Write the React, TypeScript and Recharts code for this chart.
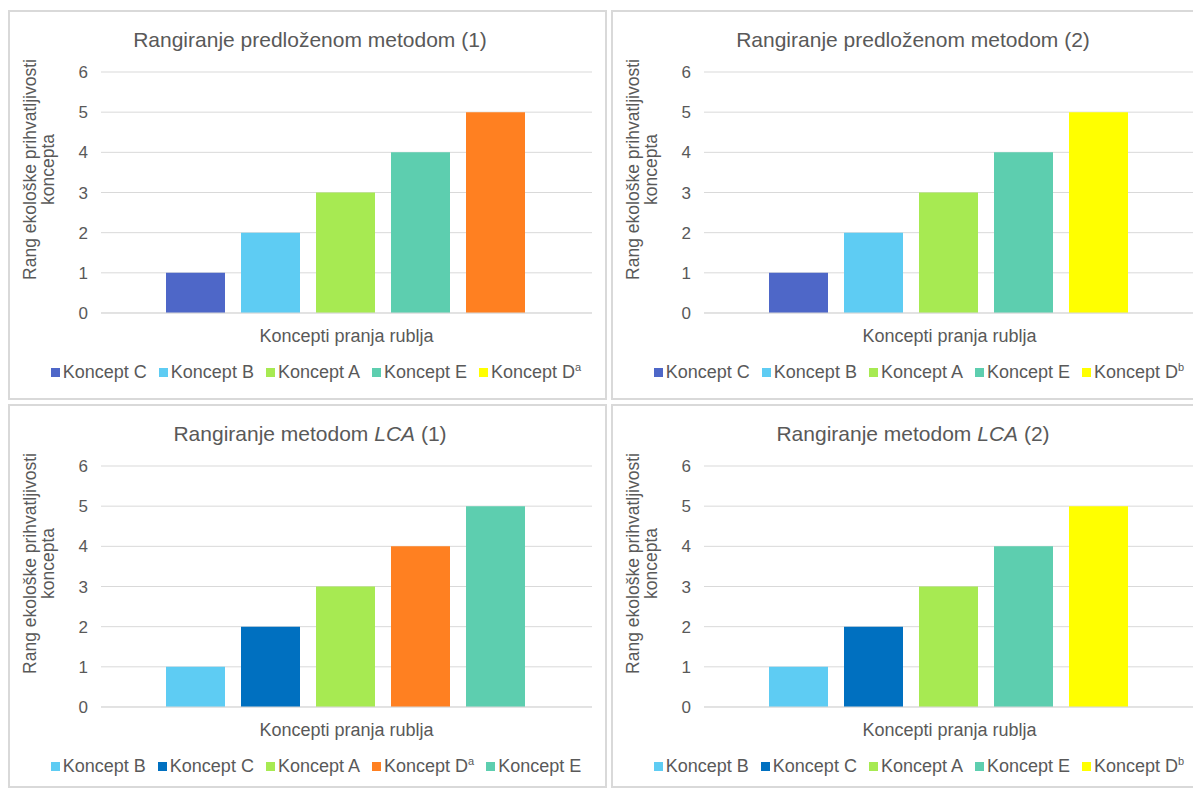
import React from 'react';
import { BarChart, Bar, XAxis, YAxis, CartesianGrid } from 'recharts';

const categories = ['Koncepti pranja rublja'];
const yTicks = [0, 1, 2, 3, 4, 5, 6];

const DARK_BLUE = '#4E67C8';
const LIGHT_BLUE = '#5ECCF3';
const GREEN = '#A7EA52';
const TEAL = '#5DCEAF';
const ORANGE = '#FF8021';
const YELLOW = '#FFFF00';
const LCA_BLUE = '#0070C0';

// Rangiranje predloženom metodom (1)
const p1Names = ['Koncept C', 'Koncept B', 'Koncept A', 'Koncept E', 'Koncept D'];
const p1Sup = ['', '', '', '', 'a'];
const p1Values = [1, 2, 3, 4, 5];
const p1Colors = [DARK_BLUE, LIGHT_BLUE, GREEN, TEAL, ORANGE];
const p1LegendColors = [DARK_BLUE, LIGHT_BLUE, GREEN, TEAL, YELLOW];

// Rangiranje predloženom metodom (2)
const p2Names = ['Koncept C', 'Koncept B', 'Koncept A', 'Koncept E', 'Koncept D'];
const p2Sup = ['', '', '', '', 'b'];
const p2Values = [1, 2, 3, 4, 5];
const p2Colors = [DARK_BLUE, LIGHT_BLUE, GREEN, TEAL, YELLOW];

// Rangiranje metodom LCA (1)
const p3Names = ['Koncept B', 'Koncept C', 'Koncept A', 'Koncept D', 'Koncept E'];
const p3Sup = ['', '', '', 'a', ''];
const p3Values = [1, 2, 3, 4, 5];
const p3Colors = [LIGHT_BLUE, LCA_BLUE, GREEN, ORANGE, TEAL];

// Rangiranje metodom LCA (2)
const p4Names = ['Koncept B', 'Koncept C', 'Koncept A', 'Koncept E', 'Koncept D'];
const p4Sup = ['', '', '', '', 'b'];
const p4Values = [1, 2, 3, 4, 5];
const p4Colors = [LIGHT_BLUE, LCA_BLUE, GREEN, TEAL, YELLOW];

const TEXT = '#595959';
const GRID = '#D9D9D9';
const FONT = '"Liberation Sans", Arial, sans-serif';

const YAxisTitle = (props: any) => {
  const vb = props.viewBox ?? { y: 60, height: 241 };
  const cy = vb.y + vb.height / 2 - 23;
  const lines = ['Rang ekološke prihvatljivosti', 'koncepta'];
  return (
    <g>
      {lines.map((t, i) => {
        const cx = 20 + i * 18;
        return (
          <text
            key={t}
            x={cx}
            y={cy}
            transform={`rotate(-90 ${cx} ${cy})`}
            textAnchor="middle"
            dominantBaseline="central"
            fontSize={17.5}
            fill={TEXT}
            fontFamily={FONT}
          >
            {t}
          </text>
        );
      })}
    </g>
  );
};

type PanelProps = {
  left: number;
  top: number;
  width: number;
  height: number;
  title: React.ReactNode;
  names: string[];
  sups: string[];
  values: number[];
  colors: string[];
  legendColors?: string[];
};

function Panel({ left, top, width, height, title, names, sups, values, colors, legendColors }: PanelProps) {
  const row: Record<string, any> = { name: categories[0] };
  values.forEach((v, i) => {
    row['s' + i] = v;
  });
  const data = [row];
  const chartW = width - 4;
  const chartH = height - 4;
  const lc = legendColors ?? colors;

  return (
    <div
      style={{
        position: 'absolute',
        left,
        top,
        width,
        height,
        boxSizing: 'border-box',
        border: `2px solid ${GRID}`,
        background: '#fff',
        overflow: 'hidden',
      }}
    >
      <div
        style={{
          position: 'absolute',
          left: 0,
          top: 16,
          width: 600,
          textAlign: 'center',
          fontSize: 21,
          color: TEXT,
          fontFamily: FONT,
          whiteSpace: 'nowrap',
        }}
      >
        {title}
      </div>
      <div style={{ position: 'absolute', left: 0, top: 0 }}>
        <BarChart
          width={chartW}
          height={chartH}
          data={data}
          margin={{ top: 60, right: chartW - 582, left: 0, bottom: chartH - 331 }}
          barCategoryGap={65}
          barGap={16}
        >
          <CartesianGrid vertical={false} stroke={GRID} />
          <XAxis
            dataKey="name"
            height={30}
            tickLine={false}
            axisLine={{ stroke: GRID }}
            tickMargin={10}
            tick={{ fontSize: 18, fill: TEXT, fontFamily: FONT }}
          />
          <YAxis
            width={91}
            domain={[0, 6]}
            ticks={yTicks}
            axisLine={false}
            tickLine={false}
            tickMargin={7}
            tick={{ fontSize: 17, fill: TEXT, fontFamily: FONT }}
            label={<YAxisTitle />}
          />
          {names.map((n, i) => (
            <Bar
              key={n + i}
              dataKey={'s' + i}
              name={n + sups[i]}
              fill={colors[i]}
              isAnimationActive={false}
            />
          ))}
        </BarChart>
      </div>
      <div
        style={{
          position: 'absolute',
          left: 0,
          top: 350,
          width: 612,
          display: 'flex',
          justifyContent: 'center',
          alignItems: 'center',
          gap: 12,
          fontSize: 18,
          color: TEXT,
          fontFamily: FONT,
          whiteSpace: 'nowrap',
        }}
      >
        {names.map((n, i) => (
          <div key={n + i} style={{ display: 'flex', alignItems: 'center' }}>
            <span
              style={{ display: 'inline-block', width: 9, height: 9, background: lc[i], marginRight: 3 }}
            />
            <span>
              {n}
              {sups[i] ? <sup style={{ fontSize: 11, verticalAlign: 'top', lineHeight: 1 }}>{sups[i]}</sup> : null}
            </span>
          </div>
        ))}
      </div>
    </div>
  );
}

export default function App() {
  return (
    <div style={{ position: 'relative', width: 1193, height: 781, fontFamily: FONT }}>
      <Panel
        left={0}
        top={2}
        width={599}
        height={390}
        title="Rangiranje predloženom metodom (1)"
        names={p1Names}
        sups={p1Sup}
        values={p1Values}
        colors={p1Colors}
        legendColors={p1LegendColors}
      />
      <Panel
        left={603}
        top={2}
        width={589}
        height={390}
        title="Rangiranje predloženom metodom (2)"
        names={p2Names}
        sups={p2Sup}
        values={p2Values}
        colors={p2Colors}
      />
      <Panel
        left={0}
        top={396}
        width={599}
        height={384}
        title={
          <span>
            Rangiranje metodom <i>LCA</i> (1)
          </span>
        }
        names={p3Names}
        sups={p3Sup}
        values={p3Values}
        colors={p3Colors}
      />
      <Panel
        left={603}
        top={396}
        width={589}
        height={384}
        title={
          <span>
            Rangiranje metodom <i>LCA</i> (2)
          </span>
        }
        names={p4Names}
        sups={p4Sup}
        values={p4Values}
        colors={p4Colors}
      />
    </div>
  );
}
